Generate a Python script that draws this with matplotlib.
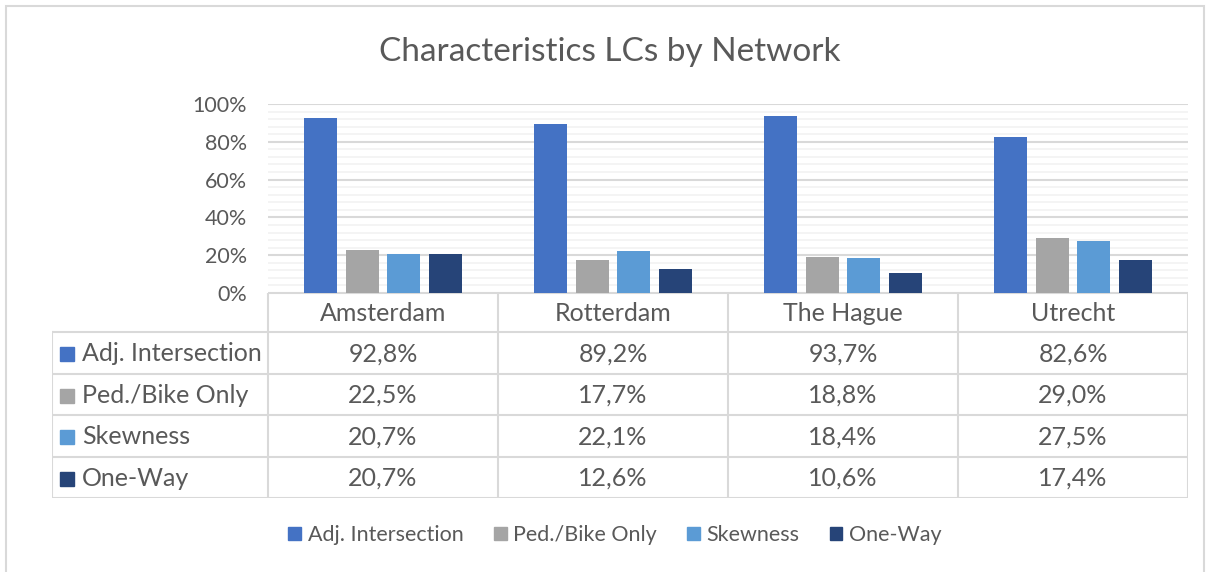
import numpy as np
import matplotlib.pyplot as plt
from matplotlib.patches import Rectangle, Patch
from matplotlib.ticker import MultipleLocator, PercentFormatter

plt.rcParams['font.family'] = ['Lato', 'DejaVu Sans']

cities = ['Amsterdam', 'Rotterdam', 'The Hague', 'Utrecht']
series = ['Adj. Intersection', 'Ped./Bike Only', 'Skewness', 'One-Way']
adj_intersection = [92.8, 89.2, 93.7, 82.6]
ped_bike_only = [22.5, 17.7, 18.8, 29.0]
skewness = [20.7, 22.1, 18.4, 27.5]
one_way = [20.7, 12.6, 10.6, 17.4]
colors = ['#4472C4', '#A5A5A5', '#5B9BD5', '#264478']

values = [adj_intersection, ped_bike_only, skewness, one_way]

W, H = 1211, 572
fig = plt.figure(figsize=(W / 100, H / 100), dpi=100)
txt = '#595959'
grid_major = '#D9D9D9'
grid_minor = '#F2F2F2'


def fx(px):
    return px / W


def fy(py):
    return 1 - py / H


# outer chart frame
fig.patches.append(Rectangle((fx(6), fy(600)), fx(1204) - fx(6), fy(6) - fy(600),
                             transform=fig.transFigure, fill=False,
                             edgecolor='#D9D9D9', linewidth=1.5))

fig.text(fx(610), fy(52), 'Characteristics LCs by Network', ha='center', va='center',
         fontsize=24, color=txt)

# bar area
left, right, top, bottom = 268, 1188, 104, 293
ax = fig.add_axes([fx(left), fy(bottom), fx(right) - fx(left), fy(top) - fy(bottom)])
x = np.arange(len(cities))
step, width = 0.18, 0.143
for j, (name, vals) in enumerate(zip(series, values)):
    ax.bar(x + (j - 1.5) * step, vals, width=width, color=colors[j], label=name, zorder=3)
ax.set_xlim(-0.5, len(cities) - 0.5)
ax.set_ylim(0, 100)
ax.yaxis.set_major_locator(MultipleLocator(20))
ax.yaxis.set_minor_locator(MultipleLocator(4))
ax.yaxis.set_major_formatter(PercentFormatter(decimals=0))
ax.grid(axis='y', which='major', color=grid_major, linewidth=1.5, zorder=0)
ax.grid(axis='y', which='minor', color=grid_minor, linewidth=1.2, zorder=0)
ax.set_xticks([])
for s in ax.spines.values():
    s.set_visible(False)
ax.tick_params(axis='y', which='both', length=0, labelsize=15.5, labelcolor=txt, pad=15)

# data table
tleft = 52
row_y = [293, 332, 374, 415, 457, 498]
tab = fig.add_axes([fx(tleft), fy(row_y[-1]), fx(right) - fx(tleft), fy(row_y[0]) - fy(row_y[-1])])
tab.set_xlim(tleft, right)
tab.set_ylim(row_y[-1], row_y[0])
tab.axis('off')
col_x = [left + i * (right - left) / len(cities) for i in range(len(cities) + 1)]
lc = '#D9D9D9'
lw = 1.5
# header row
tab.plot([left, right], [row_y[0], row_y[0]], color=lc, lw=lw)
for cx in col_x:
    tab.plot([cx, cx], [row_y[0], row_y[-1]], color=lc, lw=lw)
tab.plot([tleft, tleft], [row_y[1], row_y[-1]], color=lc, lw=lw)
for ry in row_y[1:]:
    tab.plot([tleft, right], [ry, ry], color=lc, lw=lw)
for i, c in enumerate(cities):
    tab.text((col_x[i] + col_x[i + 1]) / 2, (row_y[0] + row_y[1]) / 2 + 1, c,
             ha='center', va='center', fontsize=18, color=txt)
for j, name in enumerate(series):
    cy = (row_y[j + 1] + row_y[j + 2]) / 2 + 1
    tab.add_patch(Rectangle((60, cy - 7), 14, 14, color=colors[j]))
    tab.text(82, cy, name, ha='left', va='center', fontsize=18, color=txt)
    for i, v in enumerate(values[j]):
        tab.text((col_x[i] + col_x[i + 1]) / 2, cy, f'{v:.1f}%'.replace('.', ','),
                 ha='center', va='center', fontsize=18, color=txt)

handles = [Patch(color=c) for c in colors]
fig.legend(handles, series, loc='center', bbox_to_anchor=(fx(615), fy(535)), ncol=4,
           frameon=False, fontsize=15.5, labelcolor=txt, handlelength=0.6, handleheight=0.6,
           handletextpad=0.3, columnspacing=1.4)

fig.savefig('out.png', dpi=100)
